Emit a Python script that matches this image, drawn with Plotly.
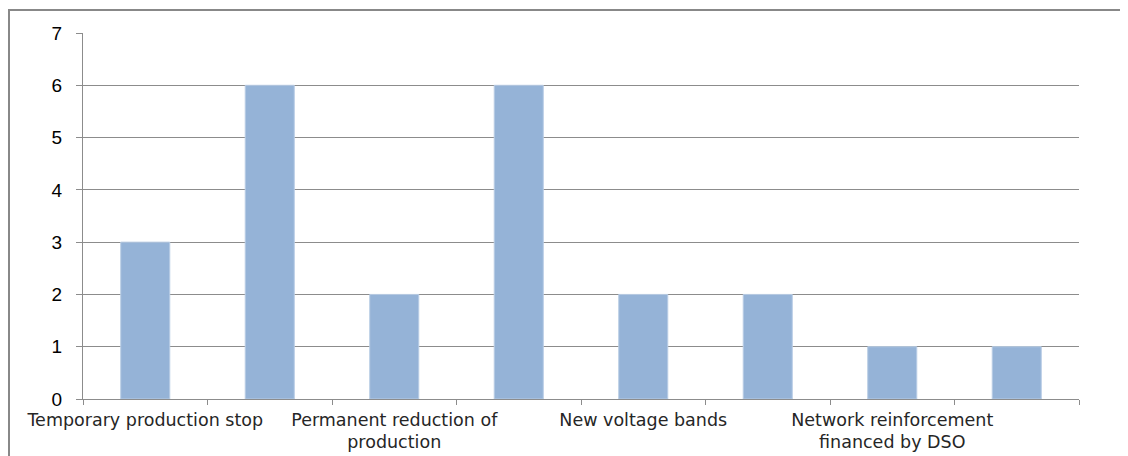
import plotly.graph_objects as go

values = [3, 6, 2, 6, 2, 2, 1, 1]
tick_labels = ["Temporary production stop", "", "Permanent reduction of<br>production", "",
               "New voltage bands", "", "Network reinforcement<br>financed by DSO", ""]
y_ticks = [0, 1, 2, 3, 4, 5, 6, 7]

positions = list(range(len(values)))
# page body has an 8px margin, so the figure starts at (8, 8)
W, H = 1120, 448
L, R, T, B = 75, 49, 25, 57
pw, ph = W - L - R, H - T - B

fig = go.Figure()
fig.add_trace(go.Bar(x=positions, y=values, width=0.394,
                     marker=dict(color="#95B3D7", line=dict(color="#B9CDE5", width=1)),
                     showlegend=False))

grid = "#8C8C8C"
fig.update_layout(
    width=W, height=H, margin=dict(l=L, r=R, t=T, b=B, pad=0, autoexpand=False),
    paper_bgcolor="white", plot_bgcolor="white",
    xaxis=dict(range=[-0.5, len(values) - 0.5], tickmode="array",
               tickvals=[p - 0.5 for p in positions] + [len(values) - 0.5],
               ticktext=[""] * (len(values) + 1), automargin=False,
               ticks="outside", ticklen=5, tickcolor=grid, tickwidth=1,
               showgrid=False, showline=True, linecolor=grid, linewidth=1,
               zeroline=False, fixedrange=True),
    xaxis2=dict(range=[-0.5, len(values) - 0.5], overlaying="x", side="bottom",
                tickmode="array", tickvals=positions, ticktext=tick_labels,
                ticks="", showgrid=False, showline=False, zeroline=False,
                automargin=False,
                tickfont=dict(family="DejaVu Sans", size=17.5, color="#262626"),
                ticklabelstandoff=8, tickangle=0),
    yaxis=dict(range=[0, 7], tickmode="array", tickvals=y_ticks, automargin=False,
               ticks="outside", ticklen=6, tickcolor=grid, tickwidth=1,
               showgrid=True, gridcolor=grid, gridwidth=1,
               showline=True, linecolor=grid, linewidth=1, zeroline=False,
               tickfont=dict(family="Liberation Sans", size=19, color="black"),
               ticklabelstandoff=10),
    shapes=[dict(type="rect", xref="paper", yref="paper",
                 x0=(1 - L) / pw, x1=(W + 10 - L) / pw,
                 y0=-(B + 10) / ph, y1=(H - 2 - B) / ph,
                 line=dict(color="#888888", width=2), fillcolor="rgba(0,0,0,0)", layer="above")],
)
fig.add_trace(go.Scatter(x=positions, y=[None] * len(values), xaxis="x2", showlegend=False,
                         hoverinfo="skip"))

fig.write_html("out.html")
